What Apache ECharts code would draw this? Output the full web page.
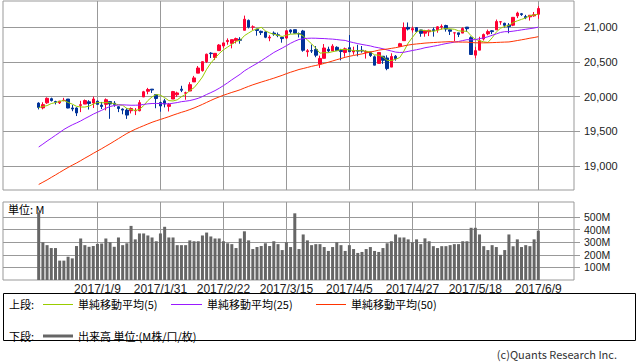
<!DOCTYPE html>
<html><head><meta charset="utf-8">
<script src="https://cdn.jsdelivr.net/npm/echarts@6/dist/echarts.min.js"></script>
<style>html,body{margin:0;padding:0;background:#fff}#c{width:638px;height:362px}</style>
</head><body><div id="c"></div>
<script>
// Trading dates shown on the chart
const dates = [
'2016/12/16','2016/12/19','2016/12/20','2016/12/21','2016/12/22','2016/12/23','2016/12/27','2016/12/28','2016/12/29','2016/12/30',
'2017/1/3','2017/1/4','2017/1/5','2017/1/6','2017/1/9','2017/1/10','2017/1/11','2017/1/12','2017/1/13','2017/1/17','2017/1/18','2017/1/19','2017/1/20','2017/1/23','2017/1/24','2017/1/25','2017/1/26','2017/1/27','2017/1/30','2017/1/31',
'2017/2/1','2017/2/2','2017/2/3','2017/2/6','2017/2/7','2017/2/8','2017/2/9','2017/2/10','2017/2/13','2017/2/14','2017/2/15','2017/2/16','2017/2/17','2017/2/21','2017/2/22','2017/2/23','2017/2/24','2017/2/27','2017/2/28',
'2017/3/1','2017/3/2','2017/3/3','2017/3/6','2017/3/7','2017/3/8','2017/3/9','2017/3/10','2017/3/13','2017/3/14','2017/3/15','2017/3/16','2017/3/17','2017/3/20','2017/3/21','2017/3/22','2017/3/23','2017/3/24','2017/3/27','2017/3/28','2017/3/29','2017/3/30','2017/3/31',
'2017/4/3','2017/4/4','2017/4/5','2017/4/6','2017/4/7','2017/4/10','2017/4/11','2017/4/12','2017/4/13','2017/4/17','2017/4/18','2017/4/19','2017/4/20','2017/4/21','2017/4/24','2017/4/25','2017/4/26','2017/4/27','2017/4/28',
'2017/5/1','2017/5/2','2017/5/3','2017/5/4','2017/5/5','2017/5/8','2017/5/9','2017/5/10','2017/5/11','2017/5/12','2017/5/15','2017/5/16','2017/5/17','2017/5/18','2017/5/19','2017/5/22','2017/5/23','2017/5/24','2017/5/25','2017/5/26','2017/5/30','2017/5/31',
'2017/6/1','2017/6/2','2017/6/5','2017/6/6','2017/6/7','2017/6/8','2017/6/9'];

const opens = [19905,19836,19909,19969,19927,19909,19943,19964,19835,19834,
19872,19891,19924,19906,19932,19876,19887,19927,19904,19853,19819,19804,19795,19794,19795,19994,20076,20107,20028,19913,
19938,19858,19964,20026,20107,20049,20080,20211,20338,20374,20504,20627,20564,20663,20731,20793,20768,20808,20827,
20957,21100,21003,20972,20942,20933,20846,20917,20892,20855,20845,20962,20966,20908,20947,20647,20663,20680,20470,20552,20682,20659,20711,
20665,20637,20705,20644,20665,20668,20639,20643,20574,20479,20582,20557,20425,20582,20723,20807,20999,20962,20996,
20962,20915,20935,20966,20963,21004,21026,20964,20919,20920,20916,21003,20850,20598,20670,20831,20905,20950,20964,21077,21058,21032,
21030,21165,21196,21155,21151,21165,21188];
const highs = [19917,19917,19988,19984,19939,19934,19981,19964,19878,19844,
19938,19957,19948,19999,19943,19922,19973,19927,19934,19858,19829,19832,19843,19833,19949,20082,20125,20107,20029,19926,
19967,19906,20081,20070,20155,20070,20207,20298,20441,20504,20620,20640,20625,20757,20777,20840,20822,20851,20858,
21169,21112,21028,20979,20952,20942,20886,20941,20924,20855,20960,20970,20966,20925,20963,20685,20750,20729,20591,20758,20720,20756,20726,
20689,20707,20888,20720,20748,20730,20669,20643,20593,20637,20582,20595,20625,20599,20775,21070,21070,21011,21000,
20963,20963,20967,20997,21017,21042,21037,20967,20919,20920,20999,21004,20870,20718,20863,20910,20967,20960,21112,21090,21066,21061,
21145,21225,21207,21180,21175,21221,21305];
const lows = [19814,19815,19894,19928,19886,19892,19930,19831,19788,19718,
19775,19891,19812,19834,19887,19820,19800,19678,19853,19775,19744,19677,19756,19732,19786,19994,20033,20052,19831,19781,
19843,19784,19964,19995,20064,19954,20079,20211,20338,20360,20484,20556,20527,20663,20702,20749,20696,20767,20763,
20957,20984,20962,20879,20889,20843,20799,20878,20857,20778,20830,20907,20910,20853,20647,20575,20629,20568,20413,20552,20637,20659,20663,
20522,20575,20646,20604,20580,20634,20548,20572,20453,20479,20472,20380,20425,20518,20723,20807,20955,20924,20927,
20864,20864,20873,20865,20922,20967,20938,20889,20798,20859,20916,20935,20606,20553,20670,20809,20885,20902,20964,21037,20998,20914,
21017,21133,21165,21118,21097,21153,21123];
const closes = [19843,19883,19974,19942,19919,19934,19945,19834,19820,19763,
19882,19942,19899,19964,19887,19856,19954,19892,19886,19827,19804,19732,19827,19799,19912,20069,20101,20094,19971,19864,
19891,19884,20071,20052,20090,20054,20172,20269,20412,20504,20611,20620,20624,20744,20775,20810,20822,20837,20812,
21116,21003,21006,20954,20924,20856,20858,20903,20881,20837,20950,20934,20915,20906,20668,20661,20657,20597,20551,20701,20659,20728,20663,
20650,20689,20648,20662,20656,20658,20651,20592,20453,20637,20523,20404,20578,20548,20763,20996,20975,20981,20941,
20913,20950,20957,20951,21007,21013,20975,20943,20920,20897,20982,20980,20607,20663,20805,20895,20938,20938,21083,21080,21029,21009,
21144,21206,21184,21137,21174,21182,21272];
// closes before the first visible day (needed by the moving averages)
const priorCloses = [18240,18329,18129,18144,18099,18138,18086,18162,18203,18162,18146,18223,18169,18199,18170,18161,18142,
18037,17960,17931,17888,18260,18333,18590,18808,18848,18869,18923,18868,18904,18868,18957,19024,19083,19152,19098,19122,19124,
19192,19170,19216,19252,19550,19615,19757,19796,19911,19793,19852];
// volume, millions of shares
const volumes = [538,300,277,254,254,154,154,185,172,270,
330,277,264,270,287,290,330,300,264,338,277,292,430,323,370,370,354,338,308,370,
423,338,338,277,277,277,315,308,308,354,377,346,330,330,308,292,285,254,330,
387,315,246,262,270,292,270,308,285,238,300,262,530,246,362,315,277,285,285,262,231,262,300,
277,231,277,246,215,223,246,262,231,223,254,292,308,362,338,338,323,300,323,
285,331,308,269,254,269,269,277,285,285,308,308,415,415,362,269,238,277,262,200,238,362,
269,323,262,277,269,323,392];
const priceTicks = [19000,19500,20000,20500,21000];
const volumeTicks = [100,200,300,400,500];
const dateLabels = ['2017/1/9','2017/1/31','2017/2/22','2017/3/15','2017/4/5','2017/4/27','2017/5/18','2017/6/9'];
const maPeriods = [5,25,50];

const PAD_L = 8, PAD_R = 8;
const cats = [];
for (let i = 0; i < PAD_L; i++) cats.push('_l' + i);
dates.forEach(d => cats.push(d));
for (let i = 0; i < PAD_R; i++) cats.push('_r' + i);
const labelSet = new Set(dateLabels.map(d => cats.indexOf(d)));

const allCloses = priorCloses.concat(closes);
function sma(n) {
  return closes.map((_, i) => {
    const end = priorCloses.length + i;
    let s = 0;
    for (let j = end - n + 1; j <= end; j++) s += allCloses[j];
    return [PAD_L + i, +(s / n).toFixed(2)];
  });
}
const candleData = dates.map((d, i) => [PAD_L + i, opens[i], closes[i], lows[i], highs[i]]);
const volData = volumes.map((v, i) => [PAD_L + i, v]);

const FONT = '"Noto Sans CJK JP", "Noto Sans", sans-serif';
const NUMFONT = '"Liberation Sans", Arial, sans-serif';
const GRID_C = '#999999';
const maColors = ['#99cc00', '#9a1aff', '#ff3300'];

const chart = echarts.init(document.getElementById('c'), null, {renderer: 'svg'});
const xBase = {
  type: 'category', data: cats, boundaryGap: true,
  axisLine: {show: false}, axisTick: {show: false},
  splitLine: {show: true, interval: (i) => labelSet.has(i), alignWithLabel: true, lineStyle: {color: GRID_C, width: 1}}
};
const yLabel = {color: '#222', fontSize: 11, lineHeight: 11, fontFamily: NUMFONT, margin: 10};
const option = {
  animation: false,
  textStyle: {fontFamily: FONT},
  grid: [
    {left: 3, top: 1, width: 571, height: 189, show: true, borderColor: GRID_C, borderWidth: 1},
    {left: 3, top: 202, width: 571, height: 78, show: true, borderColor: GRID_C, borderWidth: 1}
  ],
  xAxis: [
    Object.assign({}, xBase, {gridIndex: 0, axisLabel: {show: false}}),
    Object.assign({}, xBase, {gridIndex: 1, axisLabel: {show: true, interval: (i) => labelSet.has(i), formatter: (v) => v, color: '#222', fontSize: 12, lineHeight: 12, fontFamily: NUMFONT, margin: 3}})
  ],
  yAxis: [
    {type: 'value', gridIndex: 0, position: 'right', min: 18650, max: 21380, scale: true,
     axisLine: {show: false},
     axisTick: {show: true, length: 6, customValues: priceTicks, lineStyle: {color: GRID_C}},
     axisLabel: Object.assign({customValues: priceTicks, formatter: (v) => v.toLocaleString('en-US')}, yLabel),
     splitLine: {show: true, lineStyle: {color: GRID_C, width: 1}}},
    {type: 'value', gridIndex: 1, position: 'right', min: 0, max: 620,
     axisLine: {show: false},
     axisTick: {show: true, length: 6, customValues: volumeTicks, lineStyle: {color: GRID_C}},
     axisLabel: Object.assign({customValues: volumeTicks, formatter: (v) => v + 'M'}, yLabel, {fontSize: 10.5, lineHeight: 10.5}),
     splitLine: {show: true, lineStyle: {color: GRID_C, width: 1}}}
  ],
  series: [
    {type: 'candlestick', xAxisIndex: 0, yAxisIndex: 0, data: candleData, encode: {x: 0, y: [1, 2, 3, 4]},
     barWidth: 3, z: 2,
     itemStyle: {color: '#ff0033', color0: '#003399', borderColor: '#ff0033', borderColor0: '#003399', borderColorDoji: '#003399', borderWidth: 1}},
  ].concat(maPeriods.map((n, k) => ({
     type: 'line', name: '単純移動平均(' + n + ')', xAxisIndex: 0, yAxisIndex: 0, data: sma(n),
     symbol: 'none', showSymbol: false, z: 3 + k, silent: true,
     lineStyle: {color: maColors[k], width: 1}
  }))).concat([
    {type: 'bar', xAxisIndex: 1, yAxisIndex: 1, data: volData, barWidth: 3, itemStyle: {color: '#666666'}}
  ]),
  graphic: [
    {type: 'text', x: 8, y: 209, style: {text: '単位: M', fill: '#000', font: '11px ' + FONT, lineHeight: 12, verticalAlign: 'middle'}},
    {type: 'rect', shape: {x: 3.5, y: 293.5, width: 632, height: 47}, style: {fill: 'none', stroke: '#000', lineWidth: 1}},
    {type: 'text', x: 9, y: 304, style: {text: '上段:', fill: '#000', font: '11px ' + FONT, lineHeight: 12, verticalAlign: 'middle'}},
    {type: 'line', shape: {x1: 43, y1: 304.5, x2: 73, y2: 304.5}, style: {stroke: maColors[0], lineWidth: 1}},
    {type: 'text', x: 78, y: 304, style: {text: '単純移動平均(5)', fill: '#000', font: '11px ' + FONT, lineHeight: 12, verticalAlign: 'middle'}},
    {type: 'line', shape: {x1: 171, y1: 304.5, x2: 202, y2: 304.5}, style: {stroke: maColors[1], lineWidth: 1}},
    {type: 'text', x: 207, y: 304, style: {text: '単純移動平均(25)', fill: '#000', font: '11px ' + FONT, lineHeight: 12, verticalAlign: 'middle'}},
    {type: 'line', shape: {x1: 316, y1: 304.5, x2: 346, y2: 304.5}, style: {stroke: maColors[2], lineWidth: 1}},
    {type: 'text', x: 351, y: 304, style: {text: '単純移動平均(50)', fill: '#000', font: '11px ' + FONT, lineHeight: 12, verticalAlign: 'middle'}},
    {type: 'text', x: 9, y: 336, style: {text: '下段:', fill: '#000', font: '11px ' + FONT, lineHeight: 12, verticalAlign: 'middle'}},
    {type: 'line', shape: {x1: 43, y1: 336, x2: 73, y2: 336}, style: {stroke: '#666666', lineWidth: 3}},
    {type: 'text', x: 78, y: 336, style: {text: '出来高 単位:(M株/口/枚)', fill: '#000', font: '11px ' + FONT, lineHeight: 12, verticalAlign: 'middle'}},
    {type: 'text', x: 617, y: 354, style: {text: '(c)Quants Research Inc.', fill: '#333', font: '11px ' + FONT, lineHeight: 12, align: 'right', verticalAlign: 'middle'}}
  ]
};
chart.setOption(option);
</script>
</body></html>
